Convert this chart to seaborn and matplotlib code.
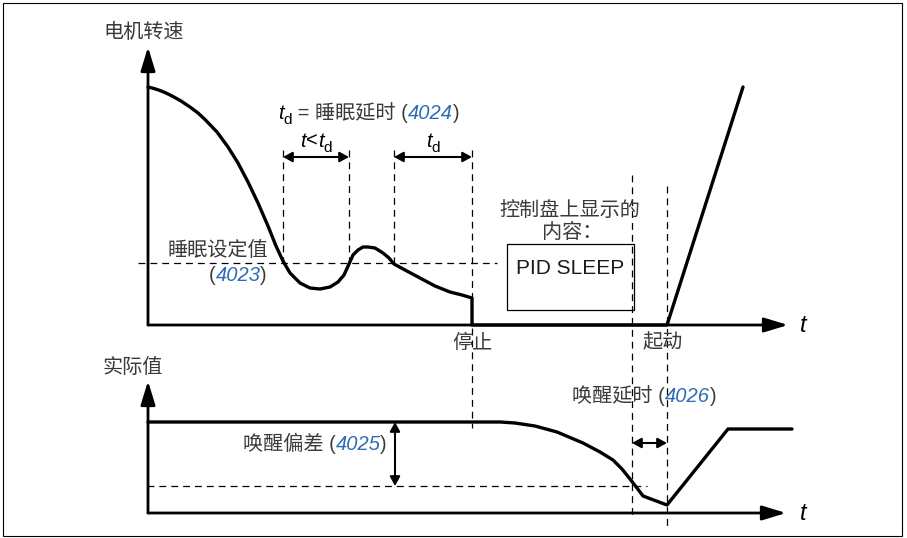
import matplotlib.pyplot as plt
import seaborn as sns
from matplotlib.patches import Rectangle

# 电机转速曲线 (像素坐标, y 向下)
speed_x = [148, 154, 160, 166, 173, 181, 190, 198, 205, 217, 228, 238, 248, 258, 268,
           276, 283, 290, 300, 310, 320, 330, 338, 344, 349, 353, 358, 363, 368, 375,
           383, 389, 394, 405, 420, 435, 450, 462, 472, 472, 667, 743]
speed_y = [87, 88.5, 90.5, 93, 96.5, 101, 107, 113, 119.5, 132, 147, 163, 182, 203, 226,
           246, 261, 273, 283, 288, 289, 287, 282, 275, 264, 255, 250, 247, 247, 248,
           253, 258, 264, 270, 278, 286, 292, 295, 298, 325, 325, 87]

# 实际值曲线
actual_x = [148, 500, 515, 535, 557, 583, 600, 613, 622, 630, 637, 643, 667, 728, 792]
actual_y = [422, 422, 423, 426, 432, 443, 452, 460, 469, 479, 488, 496, 505, 429, 429]

sleep_level = 263      # 睡眠设定值
wake_level = 486       # 唤醒电平
t_marks = [283, 349, 394, 472]
t_stop, t_wake, t_start = 472, 632, 667

GRAY = '#3a3a3a'
BLUE = '#2d6cb5'

sns.set_theme(style='white')
plt.rcParams['font.family'] = ['Liberation Sans', 'Noto Sans CJK SC', 'DejaVu Sans']

fig = plt.figure(figsize=(9.07, 5.38), dpi=100)
ax = fig.add_axes([0, 0, 1, 1])
ax.set_xlim(0, 907)
ax.set_ylim(538, 0)
ax.axis('off')

ax.add_patch(Rectangle((3, 3), 899, 533, fill=False, lw=0.8, ec='black'))


def arrow(x0, y0, x1, y1, style, scale=20, lw=2.0):
    ax.annotate('', xy=(x1, y1), xytext=(x0, y0),
                arrowprops=dict(arrowstyle=style, mutation_scale=scale, lw=lw,
                                color='black', shrinkA=0, shrinkB=0))


def dash(xs, ys):
    ax.plot(xs, ys, color='black', lw=0.9, dashes=(5.5, 4))


renderer = fig.canvas.get_renderer()


def chain(x, y, pieces, ha='left'):
    texts = []
    for s, kw in pieces:
        kw = dict(kw)
        dy = kw.pop('dy', 0)
        kw.setdefault('fontsize', 14.5)
        kw.setdefault('color', GRAY)
        texts.append(ax.text(0, y + dy, s, va='baseline', **kw))
    widths = [t.get_window_extent(renderer).width for t in texts]
    start = x - {'left': 0, 'center': sum(widths) / 2, 'right': sum(widths)}[ha]
    for t, w in zip(texts, widths):
        t.set_x(start)
        start += w


# 虚线
dash([138, 497], [sleep_level, sleep_level])
for xm in t_marks[:3]:
    dash([xm, xm], [150, sleep_level])
dash([t_stop, t_stop], [150, 428])
dash([t_wake, t_wake], [175, 515])
dash([t_start, t_start], [186, 527])
dash([147, 647], [wake_level, wake_level])

# 坐标轴
head = '-|>,head_length=0.72,head_width=0.22'
arrow(148, 325, 148, 47, head)
arrow(148, 325, 788, 325, head)
arrow(148, 513, 148, 381, head)
arrow(148, 513, 786, 513, head)

# 曲线
sns.lineplot(x=speed_x, y=speed_y, sort=False, estimator=None, color='black', lw=2.4, ax=ax)
sns.lineplot(x=actual_x, y=actual_y, sort=False, estimator=None, color='black', lw=2.4, ax=ax)

# 双向箭头
small = '<|-|>,head_length=0.55,head_width=0.3'
arrow(t_marks[0], 157, t_marks[1], 157, small, scale=10, lw=1.5)
arrow(t_marks[2], 157, t_marks[3], 157, small, scale=10, lw=1.5)
arrow(395, 422, 395, wake_level, small, scale=10, lw=1.5)
arrow(t_wake, 443, t_start, 443, small, scale=10, lw=1.5)

# 面板
ax.add_patch(Rectangle((507, 244), 127, 66, fill=False, lw=0.9, ec='black'))
ax.text(570, 268, 'PID SLEEP', ha='center', va='center', fontsize=15, color='#1a1a1a')

# 文字
ax.text(103, 32, '电机转速', ha='left', va='center', fontsize=14.5, color=GRAY, style='italic')
ax.text(103, 367, '实际值', ha='left', va='center', fontsize=14.5, color=GRAY, style='italic')
ax.text(803, 325, 't', ha='center', va='center', fontsize=17, style='italic', color='black')
ax.text(803, 513, 't', ha='center', va='center', fontsize=17, style='italic', color='black')

it = dict(style='italic', color='black')
sub = dict(fontsize=11, dy=5, color='black')
chain(278, 119, [('t', it), ('d', sub), (' = 睡眠延时 (', {}),
                 ('4024', dict(style='italic', color=BLUE)), (')', {})])
chain(316, 147, [('t', it), ('<', dict(color='black')), ('t', it), ('d', sub)], ha='center')
chain(433, 147, [('t', it), ('d', sub)], ha='center')

ax.text(268, 250, '睡眠设定值', ha='right', va='center', fontsize=14.5, color=GRAY)
chain(267, 281, [('(', {}), ('4023', dict(style='italic', color=BLUE)), (')', {})], ha='right')

ax.text(570, 210, '控制盘上显示的', ha='center', va='center', fontsize=14.5, color=GRAY)
ax.text(572, 232, '内容：', ha='center', va='center', fontsize=14.5, color=GRAY)
ax.text(472, 343, '停止', ha='center', va='center', fontsize=14.5, color=GRAY)
ax.text(663, 343, '起动', ha='center', va='center', fontsize=14.5, color=GRAY)

chain(387, 450, [('唤醒偏差 (', {}), ('4025', dict(style='italic', color=BLUE)), (')', {})],
      ha='right')
chain(572, 402, [('唤醒延时 (', {}), ('4026', dict(style='italic', color=BLUE)), (')', {})])

fig.savefig('out.png', dpi=100)
